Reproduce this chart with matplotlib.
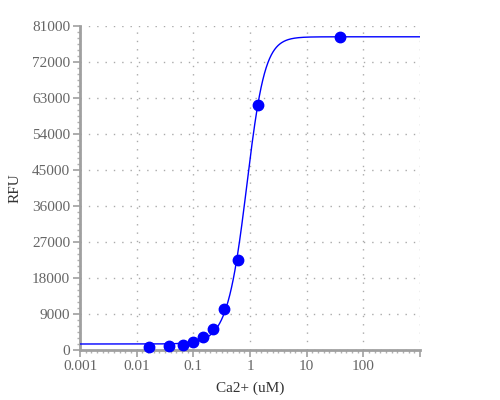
import numpy as np
import matplotlib.pyplot as plt
from matplotlib.ticker import FixedLocator, NullFormatter

# measured points
conc = [0.0167, 0.0377, 0.065, 0.1, 0.15, 0.225, 0.348, 0.607, 1.36, 38.7]
rfu = [830, 1080, 1330, 1930, 3180, 5330, 10180, 22400, 61250, 78250]

# fitted curve parameters (5PL)
bottom = 1500
top = 78300
ec50 = 0.96
hill = 2.8
asym = 0.8

y_ticks = list(range(0, 81001, 9000))
x_ticks = [0.001, 0.01, 0.1, 1, 10, 100, 1000]
x_labels = ['0.001', '0.01', '0.1', '1', '10', '100', '']

plt.rcParams['font.family'] = ['Liberation Serif', 'DejaVu Serif']

fig = plt.figure(figsize=(5, 4), dpi=100)
ax = fig.add_axes([0.16, 0.125, 0.68, 0.81])

xs = np.logspace(-3, 3, 600)
ys = bottom + (top - bottom) / (1 + (ec50 / xs) ** hill) ** asym
ax.plot(xs, ys, color='#0000ff', lw=1.0, zorder=3)
ax.plot(conc, rfu, 'o', color='#0000ff', ms=7.5, zorder=4, clip_on=False)

ax.set_xscale('log')
ax.set_xlim(0.001, 1000)
ax.set_ylim(0, 81000)

ax.set_xticks(x_ticks)
ax.set_xticklabels(x_labels)
minor_x = [10 ** (k + i / 10) for k in range(-3, 3) for i in range(1, 10)]
ax.xaxis.set_minor_locator(FixedLocator(minor_x))
ax.xaxis.set_minor_formatter(NullFormatter())

ax.set_yticks(y_ticks)
ax.set_yticklabels([str(v) for v in y_ticks])
ax.yaxis.set_minor_locator(FixedLocator(list(range(0, 81001, 1500))))

for s in ['top', 'right']:
    ax.spines[s].set_visible(False)
for s in ['left', 'bottom']:
    ax.spines[s].set_color('#a0a0a0')
    ax.spines[s].set_linewidth(2)

ax.tick_params(which='major', length=5, width=1.2, color='#a0a0a0',
               labelsize=11, labelcolor='#666666', pad=2)
ax.tick_params(which='minor', length=2, width=1, color='#b0b0b0')

ax.grid(True, which='major', color='#aaaaaa', lw=1, linestyle=(0, (1, 5)))

ax.set_xlabel('Ca2+ (uM)', fontsize=11, color='#333333', labelpad=6)
ax.set_ylabel('RFU', fontsize=11, color='#333333', labelpad=8)

fig.savefig('out.png', dpi=100)
